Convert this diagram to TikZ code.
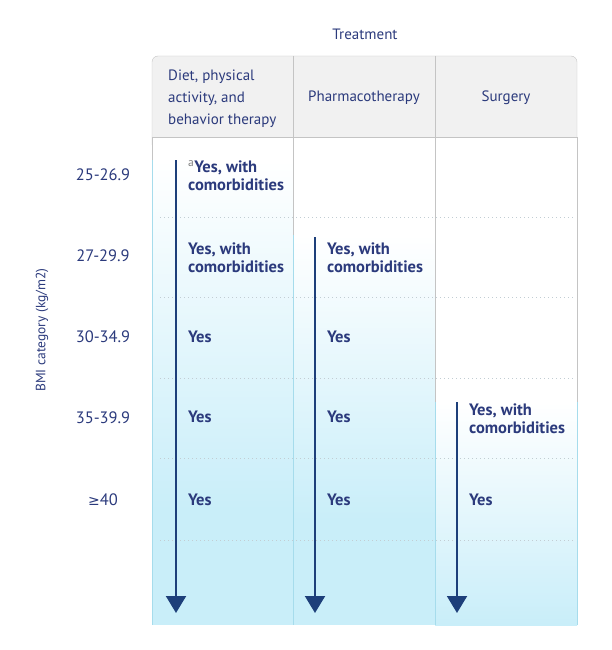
\documentclass[tikz,border=0pt]{standalone}
\usepackage{fontspec}
\setmainfont{PT Sans}
\newfontfamily\symfont{DejaVu Sans}
\usetikzlibrary{positioning,arrows.meta}
\definecolor{navy}{HTML}{2B3A7C}
\definecolor{arrowblue}{HTML}{1D3F7A}
\definecolor{hdrgray}{HTML}{F1F1F1}
\definecolor{rulegray}{HTML}{C4C4C4}
\definecolor{paleblue}{HTML}{C9EEF9}
\definecolor{edgeblue}{HTML}{A6DCEC}
\definecolor{dotgray}{HTML}{C2CDD3}

\begin{document}
\begin{tikzpicture}[%
    x=1pt,
    y=-1pt,
    every node/.style={%
      text=navy,
      font=\fontsize{15}{22}\selectfont
    },
    head/.style={%
      align=left,
      inner sep=0pt
    },
    bmi/.style={%
      inner sep=0pt,
      font=\fontsize{16.5}{20}\selectfont
    },
    yes/.style={%
      anchor=west,
      align=left,
      inner sep=0pt,
      font=\bfseries\fontsize{16.5}{18}\selectfont
    },
    band/.style={%
      top color=white,
      bottom color=paleblue
    },
    flow/.style={%
      draw=arrowblue,
      line width=2pt,
      -{Triangle[width=20pt,length=17pt]}
    },
    dots/.style={%
      draw=dotgray,
      line width=0.8pt,
      dash pattern=on 0.8pt off 3.2pt
    }
  ]
    \useasboundingbox (0,0) rectangle (612,650);

    % header box and body
    \filldraw[fill=hdrgray, draw=rulegray, rounded corners=6pt] (152,56) rectangle (577,150);
    \fill[white] (152,137) rectangle (577,625);
    \draw[rulegray] (152,137) -- (577,137);
    \draw[rulegray] (293,56) -- (293,137)
                    (435,56) -- (435,137);

    % shaded columns
    \shade[band] (152,160) rectangle (293,510);
    \fill[paleblue] (152,509) rectangle (293,625);
    \shade[band] (293,235) rectangle (435,520);
    \fill[paleblue] (293,519) rectangle (435,625);
    \shade[band] (435,402) rectangle (577,625);

    % column rules
    \draw[rulegray] (152,137) -- (152,160)
                    (293,137) -- (293,235)
                    (435,137) -- (435,402)
                    (577,137) -- (577,402);
    \draw[edgeblue] (152,160) -- (152,625)
                    (293,235) -- (293,625)
                    (435,402) -- (435,625)
                    (577,402) -- (577,625);

    % row separators
    \foreach \y in {217,297,378,458,540}
      \draw[dots] (160,\y) -- (575,\y);

    % titles
    \node (treat) at (365,34) {Treatment};
    \node[rotate=90, font=\fontsize{13.5}{16}\selectfont] (bmiaxis) at (42,330) {BMI category (kg/m2)};

    \node[head, anchor=west] (diet) at (168,99) {Diet, physical\\activity, and\\behavior therapy};
    \node[head] (pharma) at (364,98) {Pharmacotherapy};
    \node[head] (surg) at (506,98) {Surgery};

    \node[bmi] (r1) at (103,175) {25-26.9};
    \node[bmi] (r2) at (103,256) {27-29.9};
    \node[bmi] (r3) at (103,337) {30-34.9};
    \node[bmi] (r4) at (103,418) {35-39.9};
    \node[bmi] (r5) at (103,500) {{\symfont\fontsize{14}{18}\selectfont ≥}40};

    % cells
    \node[yes] (c11) at (188,176) {\textsuperscript{\normalfont\color{gray}a}Yes, with\\comorbidities};
    \node[yes] (c12) at (188,258) {Yes, with\\comorbidities};
    \node[yes] (c13) at (188,337) {Yes};
    \node[yes] (c14) at (188,417) {Yes};
    \node[yes] (c15) at (188,500) {Yes};

    \node[yes] (c22) at (327,258) {Yes, with\\comorbidities};
    \node[yes] (c23) at (327,337) {Yes};
    \node[yes] (c24) at (327,417) {Yes};
    \node[yes] (c25) at (327,500) {Yes};

    \node[yes] (c34) at (469,419) {Yes, with\\comorbidities};
    \node[yes] (c35) at (469,500) {Yes};

    % arrows
    \coordinate (a1) at (176,160);
    \coordinate (e1) at (176,613);
    \coordinate (a2) at (315,237);
    \coordinate (e2) at (315,613);
    \coordinate (a3) at (457,402);
    \coordinate (e3) at (457,613);

    \draw[flow] (a1) -- (e1);
    \draw[flow] (a2) -- (e2);
    \draw[flow] (a3) -- (e3);
  \end{tikzpicture}
\end{document}
